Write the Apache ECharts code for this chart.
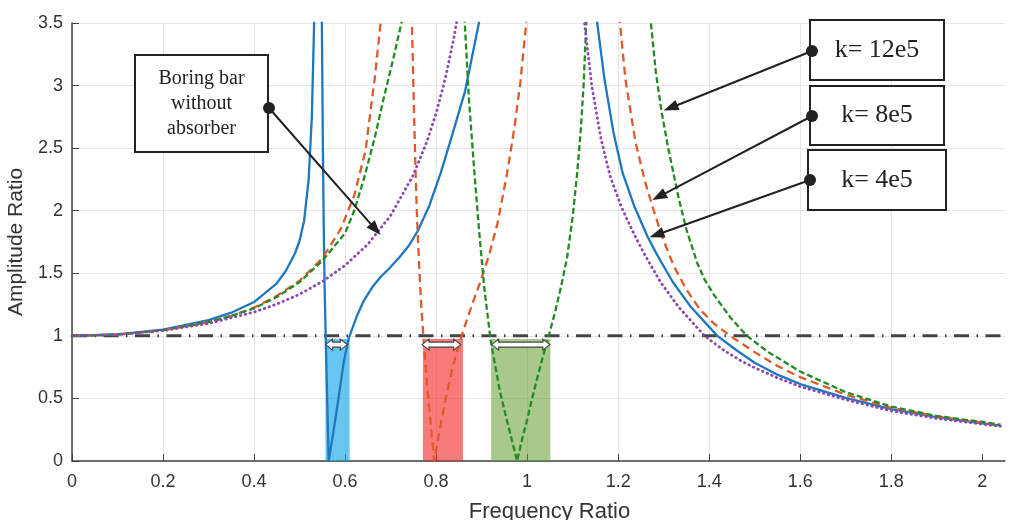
<!DOCTYPE html>
<html><head><meta charset="utf-8">
<script src="https://cdn.jsdelivr.net/npm/echarts@6/dist/echarts.min.js"></script>
<style>html,body{margin:0;padding:0;background:#fff}#c{width:1016px;height:520px}</style>
</head><body><div id="c"></div>
<script>
// ---- data ----
const xTicks = [0, 0.2, 0.4, 0.6, 0.8, 1, 1.2, 1.4, 1.6, 1.8, 2];
const yTicks = [0, 0.5, 1, 1.5, 2, 2.5, 3, 3.5];

// boring bar without absorber (purple dotted)
const withoutAbsorber = [[0,1],[0.1,1.01],[0.2,1.042],[0.3,1.099],[0.4,1.19],[0.45,1.254],[0.5,1.333],[0.55,1.434],[0.6,1.563],[0.65,1.732],[0.7,1.961],[0.75,2.286],[0.78,2.554],[0.8,2.778],[0.82,3.052],[0.84,3.397],[0.86,3.84],[0.88,4.43],
  [1.1,4.43],[1.126,3.5],[1.142,3.0],[1.162,2.58],[1.182,2.28],[1.207,2.03],[1.238,1.79],[1.259,1.645],[1.293,1.43],[1.333,1.23],[1.39,1.0],[1.43,0.89],[1.47,0.80],[1.5,0.745],[1.55,0.665],[1.6,0.595],[1.7,0.49],[1.8,0.40],[1.9,0.34],[2.0,0.295],[2.04,0.278]];

// k = 4e5 (blue solid)
const k4e5 = [[0,1],[0.1,1.012],[0.2,1.05],[0.3,1.125],[0.35,1.185],[0.4,1.27],[0.45,1.42],[0.47,1.52],[0.49,1.66],[0.5,1.76],[0.51,1.92],[0.52,2.25],[0.527,2.75],[0.532,3.5],[0.538,5.5],
  [0.547,5.5],[0.549,3.5],[0.551,2.6],[0.553,1.9],[0.555,1.4],[0.558,0.9],[0.561,0.45],[0.564,0],
  [0.575,0.25],[0.586,0.51],[0.597,0.79],[0.608,0.98],[0.625,1.15],[0.641,1.28],[0.66,1.39],[0.678,1.47],[0.7,1.55],[0.72,1.63],[0.74,1.72],[0.76,1.84],[0.785,2.04],[0.81,2.3],[0.835,2.6],[0.864,2.96],[0.894,3.5],[0.92,4.3],
  [1.14,4.3],[1.154,3.5],[1.17,3.05],[1.19,2.62],[1.21,2.3],[1.235,2.04],[1.265,1.79],[1.286,1.645],[1.32,1.43],[1.36,1.23],[1.418,1.0],[1.46,0.885],[1.5,0.785],[1.55,0.69],[1.6,0.615],[1.7,0.505],[1.8,0.415],[1.9,0.35],[2.0,0.30],[2.04,0.282]];

// k = 8e5 (orange-red dashed)
const k8e5 = [[0,1],[0.1,1.01],[0.2,1.045],[0.3,1.11],[0.35,1.16],[0.4,1.225],[0.45,1.32],[0.5,1.44],[0.55,1.62],[0.59,1.85],[0.62,2.12],[0.645,2.48],[0.656,2.8],[0.665,3.05],[0.678,3.5],[0.69,4.5],
  [0.74,4.5],[0.747,3.5],[0.751,2.85],[0.755,2.3],[0.758,1.95],[0.762,1.62],[0.768,1.2],[0.774,0.9],[0.78,0.62],[0.788,0.3],[0.796,0],
  [0.808,0.25],[0.82,0.48],[0.835,0.73],[0.85,0.93],[0.865,1.1],[0.88,1.26],[0.897,1.43],[0.916,1.64],[0.935,1.9],[0.956,2.3],[0.972,2.66],[0.985,3.02],[0.998,3.5],[1.012,4.3],
  [1.19,4.3],[1.204,3.5],[1.216,3.05],[1.238,2.55],[1.26,2.22],[1.28,1.98],[1.30,1.76],[1.322,1.56],[1.35,1.37],[1.38,1.21],[1.41,1.1],[1.45,0.99],[1.5,0.87],[1.55,0.76],[1.6,0.67],[1.7,0.53],[1.8,0.425],[1.9,0.355],[2.0,0.305],[2.04,0.285]];

// k = 12e5 (green dashed)
const k12e5 = [[0,1],[0.1,1.01],[0.2,1.045],[0.3,1.11],[0.35,1.16],[0.4,1.22],[0.45,1.31],[0.5,1.43],[0.55,1.6],[0.6,1.82],[0.62,2.0],[0.641,2.25],[0.665,2.58],[0.685,2.9],[0.705,3.2],[0.727,3.55],[0.75,4.3],
  [0.855,4.3],[0.863,3.5],[0.872,2.9],[0.883,2.36],[0.894,1.86],[0.906,1.38],[0.92,0.96],[0.94,0.56],[0.96,0.26],[0.978,0],
  [0.99,0.19],[1.0,0.33],[1.011,0.5],[1.022,0.66],[1.035,0.84],[1.049,1.02],[1.062,1.2],[1.075,1.4],[1.088,1.63],[1.1,1.95],[1.11,2.3],[1.118,2.65],[1.124,3.0],[1.13,3.5],[1.138,4.3],
  [1.265,4.3],[1.272,3.5],[1.283,3.1],[1.296,2.78],[1.31,2.5],[1.333,2.1],[1.35,1.85],[1.374,1.58],[1.39,1.45],[1.41,1.33],[1.448,1.14],[1.483,1.0],[1.53,0.87],[1.6,0.715],[1.7,0.55],[1.8,0.435],[1.9,0.36],[2.0,0.312],[2.04,0.29]];

const unityLine = [[0,1],[2.05,1]];
// suppression bands: [xStart, xEnd, top]
const bands = [[0.557,0.610,0.975],[0.771,0.859,0.975],[0.921,1.051,0.975]];
// bandwidth arrows: [xStart, xEnd, y]
const gapArrows = [[0.557,0.605,0.93],[0.769,0.854,0.93],[0.922,1.050,0.93]];
// annotation texts and the curve points they point to (data coords)
const noteTexts = [['Boring bar','without','absorber'], ['k= 12e5'], ['k= 8e5'], ['k= 4e5']];
const noteTips = [[0.678,1.805],[1.300,2.80],[1.275,2.085],[1.269,1.787]];

// ---- styling / layout ----
const noteLayout = [
  {box:[135,55,133,97], dot:[269,108], size:20, lh:25},
  {box:[810,20,134,60], dot:[812,51], size:26, lh:30},
  {box:[810,86,134,59], dot:[812,116], size:26, lh:30},
  {box:[808,150,138,60], dot:[810,180], size:26, lh:30}
];
const bandColors = ['rgba(20,167,232,0.65)','rgba(243,33,33,0.6)','rgba(97,155,46,0.55)'];
const SANS = 'Liberation Sans, Arial, sans-serif';
const SERIF = 'Liberation Serif, Times New Roman, serif';
const AX = '#404040';

const chart = echarts.init(document.getElementById('c'), null, {renderer:'canvas'});

function lineSeries(name, data, color, width, type, extra) {
  return Object.assign({
    name, type:'line', data, symbol:'none', showSymbol:false, smooth:false, clip:true,
    lineStyle:{color, width, type}, z:3, silent:true
  }, extra || {});
}

const option = {
  animation:false,
  backgroundColor:'#fff',
  grid:{left:72, right:11, top:23, bottom:59, containLabel:false, outerBoundsMode:'none'},
  xAxis:{
    type:'value', min:0, max:2.05, interval:0.2,
    name:'Frequency Ratio', nameLocation:'middle', nameGap:40,
    nameTextStyle:{fontSize:22, color:'#333', fontFamily:SANS, padding:[0,0,0,22]},
    axisLine:{show:true, onZero:false, lineStyle:{color:AX, width:1.5}},
    axisTick:{show:true, inside:true, length:7, customValues:xTicks, lineStyle:{color:AX, width:1}},
    axisLabel:{show:true, customValues:xTicks, fontSize:18, color:'#333', margin:12, fontFamily:SANS},
    splitLine:{show:true, showMaxLine:false, lineStyle:{color:'#e6e6e6', width:1}}
  },
  yAxis:{
    type:'value', min:0, max:3.5, interval:0.5,
    name:'Amplitude Ratio', nameLocation:'middle', nameGap:35,
    nameTextStyle:{fontSize:21, color:'#333', fontFamily:SANS},
    axisLine:{show:true, onZero:false, lineStyle:{color:AX, width:1.5}},
    axisTick:{show:true, inside:true, length:7, customValues:yTicks, lineStyle:{color:AX, width:1}},
    axisLabel:{show:true, customValues:yTicks, fontSize:18, color:'#333', margin:9, fontFamily:SANS},
    splitLine:{show:true, lineStyle:{color:'#e6e6e6', width:1}}
  },
  series:[
    {
      type:'custom', name:'bands', data:bands, z:1, silent:true,
      encode:{x:[0,1], y:2},
      renderItem:function(params, api){
        const p1 = api.coord([api.value(0), api.value(2)]);
        const p2 = api.coord([api.value(1), 0]);
        return {type:'rect', shape:{x:p1[0], y:p1[1], width:p2[0]-p1[0], height:p2[1]-p1[1]},
          style:{fill:bandColors[params.dataIndex]}};
      }
    },
    lineSeries('unity', unityLine, '#454545', 3, [15,7.5,1.5,7.5], {z:2}),
    lineSeries('k=4e5', k4e5, '#1f77bf', 2.3, 'solid'),
    lineSeries('k=8e5', k8e5, '#e0592a', 2.3, [8,5]),
    lineSeries('k=12e5', k12e5, '#228b22', 2.3, [6,3]),
    lineSeries('without absorber', withoutAbsorber, '#8b48b5', 2.8, [0.5,4.5], {lineStyle:{color:'#8b48b5', width:2.8, type:[0.5,4.5], cap:'round'}}),
    {
      type:'custom', name:'gaps', data:gapArrows, z:6, silent:true,
      encode:{x:[0,1], y:2},
      renderItem:function(params, api){
        const a = api.coord([api.value(0), api.value(2)]);
        const b = api.coord([api.value(1), api.value(2)]);
        const y = a[1], h = 7, hw = 5.5, bw = 2.5;
        const pts = [[a[0],y],[a[0]+h,y-hw],[a[0]+h,y-bw],[b[0]-h,y-bw],[b[0]-h,y-hw],[b[0],y],[b[0]-h,y+hw],[b[0]-h,y+bw],[a[0]+h,y+bw],[a[0]+h,y+hw]];
        return {type:'polygon', shape:{points:pts}, style:{fill:'#fff', stroke:'#444', lineWidth:1.2}};
      }
    }
  ]
};
chart.setOption(option);

// annotations
const g = [];
noteTexts.forEach(function(lines, i){
  const L = noteLayout[i];
  const [bx,by,bw,bh] = L.box;
  const tip = chart.convertToPixel({gridIndex:0}, noteTips[i]);
  const d = L.dot;
  const dx = tip[0]-d[0], dy = tip[1]-d[1];
  const len = Math.sqrt(dx*dx+dy*dy);
  const ux = dx/len, uy = dy/len, nx = -uy, ny = ux;
  const hl = 15, hw = 5.5;
  const base = [tip[0]-ux*hl, tip[1]-uy*hl];
  g.push({type:'line', z:100, shape:{x1:d[0], y1:d[1], x2:base[0]+ux*2, y2:base[1]+uy*2}, style:{stroke:'#222', lineWidth:2}});
  g.push({type:'polygon', z:100, shape:{points:[[tip[0],tip[1]],[base[0]+nx*hw, base[1]+ny*hw],[base[0]-nx*hw, base[1]-ny*hw]]}, style:{fill:'#222'}});
  g.push({type:'rect', z:101, shape:{x:bx, y:by, width:bw, height:bh}, style:{fill:'#fff', stroke:'#222', lineWidth:2}});
  g.push({type:'text', z:102, x:bx+bw/2, y:by+bh/2, style:{text:lines.join('\n'), fontSize:L.size, fontFamily:SERIF, fill:'#222',
     align:'center', verticalAlign:'middle', textAlign:'center', textVerticalAlign:'middle', lineHeight:L.lh}});
  g.push({type:'circle', z:103, shape:{cx:d[0], cy:d[1], r:6}, style:{fill:'#222'}});
});
chart.setOption({graphic:g});
</script>
</body></html>
